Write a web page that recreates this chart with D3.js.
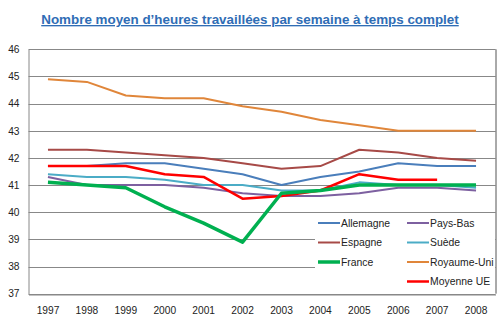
<!DOCTYPE html>
<html><head><meta charset="utf-8">
<script src="https://cdn.jsdelivr.net/npm/d3@7"></script>
<style>body{margin:0;background:#fff}svg{display:block}</style>
</head><body>
<svg id="c" width="500" height="326"></svg>
<script>
const years = ["1997","1998","1999","2000","2001","2002","2003","2004","2005","2006","2007","2008"];
const allemagne = [41.7,41.7,41.8,41.8,41.6,41.4,41.0,41.3,41.5,41.8,41.7,41.7];
const espagne = [42.3,42.3,42.2,42.1,42.0,41.8,41.6,41.7,42.3,42.2,42.0,41.9];
const france = [41.1,41.0,40.9,40.2,39.6,38.9,40.7,40.8,41.0,41.0,41.0,41.0];
const paysBas = [41.3,41.0,41.0,41.0,40.9,40.7,40.6,40.6,40.7,40.9,40.9,40.8];
const suede = [41.4,41.3,41.3,41.2,41.0,41.0,40.8,40.8,41.1,41.0,41.0,40.9];
const royaumeUni = [44.9,44.8,44.3,44.2,44.2,43.9,43.7,43.4,43.2,43.0,43.0,43.0];
const moyenneUE = [41.7,41.7,41.7,41.4,41.3,40.5,40.6,40.8,41.4,41.2,41.2,null];
const yTicks = [37,38,39,40,41,42,43,44,45,46];

const series = [
  {name:"Allemagne", values:allemagne, color:"#4A7EBB", w:2},
  {name:"Pays-Bas", values:paysBas, color:"#7D60A0", w:2},
  {name:"Espagne", values:espagne, color:"#A74A47", w:2},
  {name:"Suède", values:suede, color:"#4BACC6", w:2},
  {name:"France", values:france, color:"#00B050", w:3.5},
  {name:"Royaume-Uni", values:royaumeUni, color:"#E0863A", w:2},
  {name:"Moyenne UE", values:moyenneUE, color:"#FF0000", w:2.5}
];
const drawOrder = ["Royaume-Uni","Espagne","Allemagne","Suède","Pays-Bas","Moyenne UE","France"];

const svg = d3.select("#c");
const L=28.5, R=495.5, T=49.3, B=293.7;
const x = d3.scaleBand().domain(years).range([L,R]);
const y = d3.scaleLinear().domain([37,46]).range([B,T]);
const font = "'Liberation Sans', Arial, sans-serif";

// title
svg.append("text").attr("x",250).attr("y",24).attr("text-anchor","middle")
  .attr("font-family",font).attr("font-weight","bold").attr("font-size","13.4px")
  .attr("fill","#2F6DB5").attr("text-decoration","underline")
  .text("Nombre moyen d’heures travaillées par semaine à temps complet");

// gridlines
svg.append("g").selectAll("line").data(yTicks).join("line")
  .attr("x1",L).attr("x2",R).attr("y1",d=>Math.round(y(d))+0.5).attr("y2",d=>Math.round(y(d))+0.5)
  .attr("stroke","#888").attr("stroke-width",1);

// y axis
const ya = svg.append("g").attr("transform",`translate(${L},0)`)
  .call(d3.axisLeft(y).tickValues(yTicks).tickSize(0).tickPadding(9).tickFormat(d3.format("d")));
ya.select(".domain").attr("stroke","#888");
ya.selectAll("text").attr("font-family",font).attr("font-size","10.2px").attr("fill","#222");

// x axis
const xa = svg.append("g").attr("transform",`translate(0,${Math.round(B)+0.5})`)
  .call(d3.axisBottom(x).tickSize(0).tickPadding(12));
xa.select(".domain").attr("stroke","#888");
xa.selectAll("text").attr("font-family",font).attr("font-size","10.2px").attr("fill","#222");

// right border
svg.append("line").attr("x1",R+0.5).attr("x2",R+0.5).attr("y1",T).attr("y2",B)
  .attr("stroke","#555").attr("stroke-width",1);

// lines
const line = d3.line().defined(d=>d.v!=null).x(d=>x(d.yr)+x.bandwidth()/2).y(d=>y(d.v));
const byName = Object.fromEntries(series.map(s=>[s.name,s]));
drawOrder.forEach(n=>{
  const s = byName[n];
  svg.append("path").datum(years.map((yr,i)=>({yr,v:s.values[i]})))
    .attr("d",line).attr("fill","none").attr("stroke",s.color)
    .attr("stroke-width",s.w).attr("stroke-linejoin","round");
});

// legend
svg.append("rect").attr("x",315).attr("y",214).attr("width",180).attr("height",79).attr("fill","#fff");
const lx=[318,407], ly=[223,242.5,262,281.5];
series.forEach((s,i)=>{
  const col = i%2, row = Math.floor(i/2);
  const c = (i===6)?1:col, r=(i===6)?3:row;
  const g = svg.append("g").attr("transform",`translate(${lx[c]},${ly[r]})`);
  g.append("line").attr("x1",0).attr("x2",22).attr("y1",0).attr("y2",0)
    .attr("stroke",s.color).attr("stroke-width",s.w);
  g.append("text").attr("x",23).attr("y",3.8).attr("font-family",font).attr("font-size","10.4px")
    .attr("fill","#222").text(s.name);
});
</script>
</body></html>
